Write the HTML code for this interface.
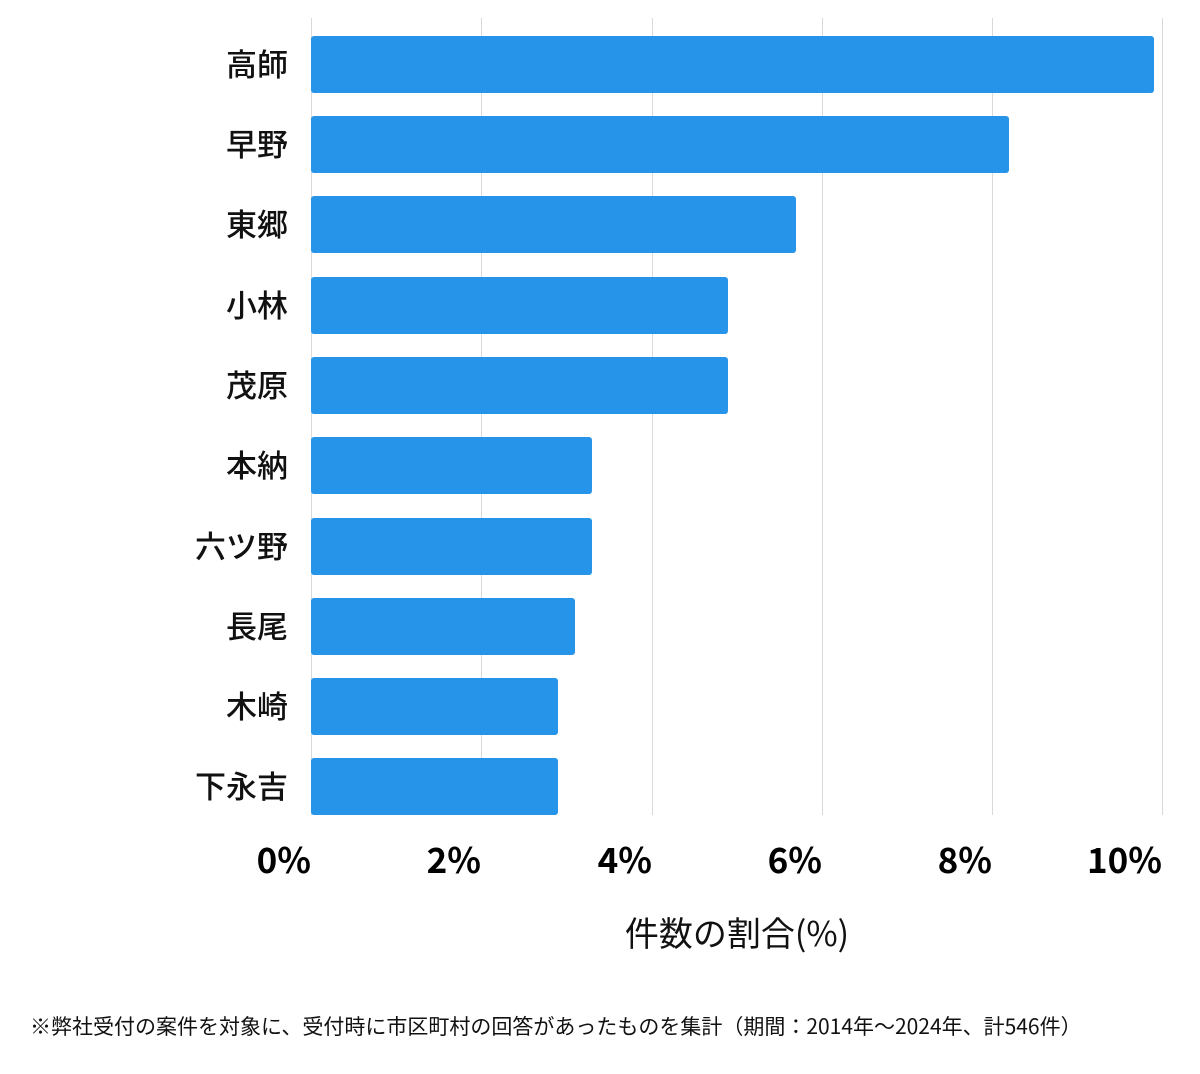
<!DOCTYPE html>
<html><head><meta charset="utf-8"><style>
body{margin:0;background:#fff;width:1200px;height:1069px;overflow:hidden}
svg text{font-family:"Noto Sans CJK JP","Liberation Sans",sans-serif}
</style></head><body>
<svg width="1200" height="1069" xmlns="http://www.w3.org/2000/svg">
<g stroke="#d9d9d9" stroke-width="1">
<line x1="311.5" y1="18" x2="311.5" y2="815"/>
<line x1="481.5" y1="18" x2="481.5" y2="815"/>
<line x1="652.5" y1="18" x2="652.5" y2="815"/>
<line x1="822.5" y1="18" x2="822.5" y2="815"/>
<line x1="992.5" y1="18" x2="992.5" y2="815"/>
<line x1="1162.5" y1="18" x2="1162.5" y2="815"/>
</g>
<g fill="#2694E8">
<rect x="311" y="36" width="843" height="57" rx="3"/>
<rect x="311" y="116" width="698" height="57" rx="3"/>
<rect x="311" y="196" width="485" height="57" rx="3"/>
<rect x="311" y="277" width="417" height="57" rx="3"/>
<rect x="311" y="357" width="417" height="57" rx="3"/>
<rect x="311" y="437" width="281" height="57" rx="3"/>
<rect x="311" y="518" width="281" height="57" rx="3"/>
<rect x="311" y="598" width="264" height="57" rx="3"/>
<rect x="311" y="678" width="247" height="57" rx="3"/>
<rect x="311" y="758" width="247" height="57" rx="3"/>
</g>
<g font-size="31" font-weight="500" text-anchor="end" fill="#111">
<text x="288" y="76">高師</text>
<text x="288" y="156">早野</text>
<text x="288" y="236">東郷</text>
<text x="288" y="317">小林</text>
<text x="288" y="397">茂原</text>
<text x="288" y="477">本納</text>
<text x="288" y="558">六ツ野</text>
<text x="288" y="638">長尾</text>
<text x="288" y="718">木崎</text>
<text x="288" y="798">下永吉</text>
</g>
<g font-size="35" font-weight="bold" text-anchor="end" fill="#000">
<text x="311" y="873">0%</text>
<text x="481" y="873">2%</text>
<text x="652" y="873">4%</text>
<text x="822" y="873">6%</text>
<text x="992" y="873">8%</text>
<text x="1162" y="873">10%</text>
</g>
<text x="737" y="946" font-size="34" text-anchor="middle" fill="#111">件数の割合(%)</text>
<text x="30" y="1034" font-size="21" fill="#111">※弊社受付の案件を対象に、受付時に市区町村の回答があったものを集計（期間：2014年～2024年、計546件）</text>
</svg>
</body></html>
